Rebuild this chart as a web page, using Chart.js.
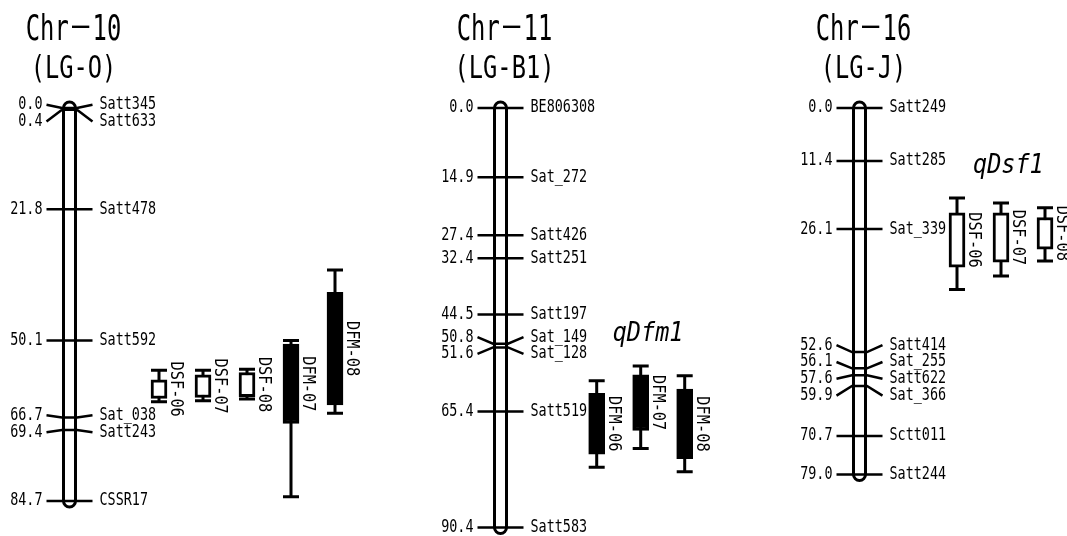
<!DOCTYPE html>
<html>

<head>
    <title>Linkage map with QTL intervals</title>
    <script src="https://cdn.jsdelivr.net/npm/chart.js"></script>
    <style>
        body {
            margin: 0;
            padding: 0;
            background-color: #ffffff;
        }

        .chart-box {
            position: relative;
            width: 1067px;
            height: 536px;
        }
    </style>
</head>

<body>
    <div class="chart-box">
        <canvas id="mapChart"></canvas>
    </div>

    <script>
        // Chromosome headings
        const chrTitles = ["Chr－10", "Chr－11", "Chr－16"];
        const lgTitles = ["(LG-O)", "(LG-B1)", "(LG-J)"];

        // Markers and map positions (cM)
        const chr10Markers = ["Satt345", "Satt633", "Satt478", "Satt592", "Sat_038", "Satt243", "CSSR17"];
        const chr10Pos = [0.0, 0.4, 21.8, 50.1, 66.7, 69.4, 84.7];

        const chr11Markers = ["BE806308", "Sat_272", "Satt426", "Satt251", "Satt197", "Sat_149", "Sat_128", "Satt519", "Satt583"];
        const chr11Pos = [0.0, 14.9, 27.4, 32.4, 44.5, 50.8, 51.6, 65.4, 90.4];

        const chr16Markers = ["Satt249", "Satt285", "Sat_339", "Satt414", "Sat_255", "Satt622", "Sat_366", "Sctt011", "Satt244"];
        const chr16Pos = [0.0, 11.4, 26.1, 52.6, 56.1, 57.6, 59.9, 70.7, 79.0];

        // QTL intervals in cM: [whisker top, box top, box bottom, whisker bottom]
        const chr10QtlNames = ["DSF-06", "DSF-07", "DSF-08", "DFM-07", "DFM-08"];
        const chr10Qtl = [[56.5, 58.6, 62.6, 63.3], [56.5, 57.5, 62.4, 63.1], [56.3, 57.0, 62.2, 62.7], [50.1, 50.9, 68.0, 83.8], [34.9, 39.7, 64.0, 65.8]];

        const chr11QtlNames = ["DFM-06", "DFM-07", "DFM-08"];
        const chr11Qtl = [[58.8, 61.5, 74.6, 77.4], [55.6, 57.5, 69.5, 73.4], [57.7, 60.6, 75.6, 78.4]];

        const chr16QtlNames = ["DSF-06", "DSF-07", "DSF-08"];
        const chr16Qtl = [[19.4, 22.6, 34.3, 39.1], [20.5, 22.6, 33.2, 36.2], [21.5, 23.6, 30.4, 33.0]];

        const qtlTitles = ["", "qDfm1", "qDsf1"];

        const chromosomes = [
            { markers: chr10Markers, pos: chr10Pos, qtlNames: chr10QtlNames, qtl: chr10Qtl },
            { markers: chr11Markers, pos: chr11Pos, qtlNames: chr11QtlNames, qtl: chr11Qtl },
            { markers: chr16Markers, pos: chr16Pos, qtlNames: chr16QtlNames, qtl: chr16Qtl }
        ];

        // Layout (page units on x, pixels per cM on y)
        const PAGE_W = 1067, PAGE_H = 536;
        const TOP_PX = 108, PX_PER_CM = 4.64;
        const centers = [69.5, 500.5, 859.5];
        const qtlStart = [159, 596.7, 957];
        const QTL_STEP = 44;
        const BODY_HALF = 7.5, TICK_HALF = 23;
        const LABEL_GAP_CM = 16.8 / PX_PER_CM;
        const LABEL_TOP_CM = -0.7;

        // push labels apart so they don't overlap
        function spreadLabels(pos, gap, minTop) {
            const avg = a => a.reduce((s, v) => s + v, 0) / a.length;
            const place = g => { g.top = Math.max(minTop, avg(g.items) - (g.items.length - 1) * gap / 2); };
            const groups = pos.map(p => ({ items: [p], top: p }));
            groups.forEach(place);
            let merged = true;
            while (merged) {
                merged = false;
                for (let i = 0; i < groups.length - 1; i++) {
                    const a = groups[i], b = groups[i + 1];
                    if (a.top + a.items.length * gap > b.top + 1e-6) {
                        a.items = a.items.concat(b.items);
                        place(a);
                        groups.splice(i + 1, 1);
                        merged = true;
                        break;
                    }
                }
            }
            return groups.flatMap(g => g.items.map((_, k) => g.top + k * gap));
        }

        const bodyData = [];
        const tickData = [];
        const whiskerData = [];
        const boxData = [];
        const boxColors = [];

        chromosomes.forEach((chr, ci) => {
            const c = centers[ci];
            const len = chr.pos[chr.pos.length - 1];
            bodyData.push({ x: c, y: 0 }, { x: c, y: len }, { x: c, y: null });

            chr.labelPos = spreadLabels(chr.pos, LABEL_GAP_CM, LABEL_TOP_CM);
            chr.pos.forEach((p, i) => {
                const lp = chr.labelPos[i];
                tickData.push(
                    { x: c - TICK_HALF, y: lp },
                    { x: c - BODY_HALF, y: p },
                    { x: c + BODY_HALF, y: p },
                    { x: c + TICK_HALF, y: lp },
                    { x: c + TICK_HALF, y: null }
                );
            });

            chr.qtl.forEach((q, j) => {
                const x = qtlStart[ci] + j * QTL_STEP;
                whiskerData.push(
                    { x: x, y: q[0] }, { x: x, y: q[3] }, { x: x, y: null },
                    { x: x - 8, y: q[0] }, { x: x + 8, y: q[0] }, { x: x + 8, y: null },
                    { x: x - 8, y: q[3] }, { x: x + 8, y: q[3] }, { x: x + 8, y: null }
                );
                boxData.push({ x: x, y: [q[1], q[2]] });
                boxColors.push(chr.qtlNames[j].startsWith("DFM") ? "#000000" : "#ffffff");
            });
        });

        const FONT = "'DejaVu Sans Mono', 'Noto Sans CJK JP', monospace";

        function drawText(ctx, text, x, y, font, align, sx, rot) {
            ctx.save();
            ctx.translate(x, y);
            if (rot) ctx.rotate(rot);
            ctx.scale(sx, 1);
            ctx.font = font;
            ctx.fillStyle = "#000000";
            ctx.textAlign = align;
            ctx.textBaseline = "middle";
            ctx.fillText(text, 0, 0);
            ctx.restore();
        }

        const labelPlugin = {
            id: "mapLabels",
            afterDatasetsDraw(chart) {
                const ctx = chart.ctx;
                const xs = chart.scales.x, ys = chart.scales.y;
                chromosomes.forEach((chr, ci) => {
                    const c = centers[ci];
                    // headings
                    drawText(ctx, chrTitles[ci], xs.getPixelForValue(c + 4), 31, "35px " + FONT, "center", 0.68);
                    drawText(ctx, lgTitles[ci], xs.getPixelForValue(c + 4), 70, "32px " + FONT, "center", 0.74);

                    // marker positions and names
                    chr.pos.forEach((p, i) => {
                        const y = ys.getPixelForValue(chr.labelPos[i]);
                        drawText(ctx, p.toFixed(1), xs.getPixelForValue(c - 27), y, "17px " + FONT, "right", 0.79);
                        drawText(ctx, chr.markers[i], xs.getPixelForValue(c + 30), y, "17px " + FONT, "left", 0.79);
                    });

                    // QTL names beside the boxes
                    chr.qtl.forEach((q, j) => {
                        const x = qtlStart[ci] + j * QTL_STEP;
                        const y = ys.getPixelForValue((q[1] + q[2]) / 2);
                        drawText(ctx, chr.qtlNames[j], xs.getPixelForValue(x + 17), y, "18px " + FONT, "center", 0.85, Math.PI / 2);
                    });

                    if (qtlTitles[ci]) {
                        const top = Math.min(...chr.qtl.map(q => q[0]));
                        drawText(ctx, qtlTitles[ci], xs.getPixelForValue(qtlStart[ci] + 16), ys.getPixelForValue(top) - 32,
                            "italic 27px " + FONT, "left", 0.87);
                    }
                });
            }
        };

        const ctx = document.getElementById("mapChart").getContext("2d");
        const mapChart = new Chart(ctx, {
            type: "scatter",
            data: {
                datasets: [
                    {
                        label: "chromosome outline",
                        data: bodyData,
                        showLine: true,
                        borderColor: "#000000",
                        borderWidth: 15,
                        borderCapStyle: "round",
                        pointRadius: 0,
                        spanGaps: false,
                        order: 10
                    },
                    {
                        label: "chromosome inside",
                        data: bodyData,
                        showLine: true,
                        borderColor: "#ffffff",
                        borderWidth: 9,
                        borderCapStyle: "round",
                        pointRadius: 0,
                        spanGaps: false,
                        order: 9
                    },
                    {
                        label: "markers",
                        data: tickData,
                        showLine: true,
                        borderColor: "#000000",
                        borderWidth: 2.5,
                        pointRadius: 0,
                        spanGaps: false,
                        order: 5
                    },
                    {
                        label: "QTL whiskers",
                        data: whiskerData,
                        showLine: true,
                        borderColor: "#000000",
                        borderWidth: 3,
                        pointRadius: 0,
                        spanGaps: false,
                        order: 4
                    },
                    {
                        type: "bar",
                        label: "QTL boxes",
                        data: boxData,
                        backgroundColor: boxColors,
                        borderColor: "#000000",
                        borderWidth: 3,
                        borderSkipped: false,
                        barThickness: 16,
                        grouped: false,
                        order: 3
                    }
                ]
            },
            options: {
                responsive: true,
                maintainAspectRatio: false,
                devicePixelRatio: 1,
                animation: false,
                events: [],
                layout: { padding: 0 },
                plugins: {
                    legend: { display: false },
                    tooltip: { enabled: false },
                    title: { display: false }
                },
                scales: {
                    x: {
                        type: "linear",
                        min: 0,
                        max: PAGE_W,
                        offset: false,
                        bounds: "data",
                        display: false
                    },
                    y: {
                        type: "linear",
                        reverse: true,
                        min: -TOP_PX / PX_PER_CM,
                        max: (PAGE_H - TOP_PX) / PX_PER_CM,
                        bounds: "data",
                        display: false
                    }
                }
            },
            plugins: [labelPlugin]
        });
    </script>
</body>

</html>
